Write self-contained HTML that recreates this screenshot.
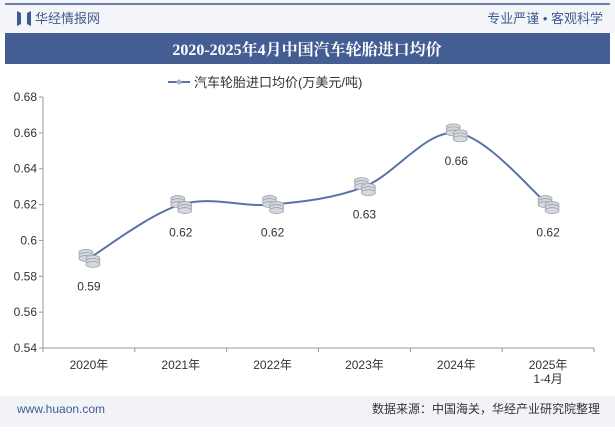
<!DOCTYPE html>
<html><head><meta charset="utf-8"><style>
body{margin:0;width:615px;height:427px;overflow:hidden;background:#fff;font-family:"Liberation Sans","Noto Sans CJK SC",sans-serif}
</style></head><body>
<svg width="615" height="427" xmlns="http://www.w3.org/2000/svg" font-family="Liberation Sans, Noto Sans CJK SC, sans-serif">
<rect x="0" y="0" width="615" height="33" fill="#f3f5f9"/>
<line x1="5" y1="4" x2="610" y2="4" stroke="#3f5a92" stroke-width="1.5"/>
<path d="M17 11 L21 13 L21 24 L17 26Z M27 13 L31 11 L31 26 L27 24Z" fill="#3f5a92"/>
<text x="35" y="23" font-size="13" fill="#3f5a92">华经情报网</text>
<text x="603" y="23" font-size="13" fill="#3f5a92" text-anchor="end">专业严谨 • 客观科学</text>
<rect x="5" y="33" width="605" height="31" fill="#445e94"/>
<text x="307" y="55" font-size="16" font-weight="bold" fill="#fff" text-anchor="middle" font-family="Liberation Serif, Noto Serif CJK SC, serif">2020-2025年4月中国汽车轮胎进口均价</text>
<g>
<line x1="168" y1="82" x2="190" y2="82" stroke="#5b72a8" stroke-width="2"/>
<circle cx="179" cy="82" r="2.5" fill="#aab4c8"/>
<text x="194" y="87" font-size="13" fill="#333">汽车轮胎进口均价(万美元/吨)</text>
</g>
<g id="axes"></g>
<g id="marks"></g>
<rect x="0" y="396" width="615" height="31" fill="#f1f3f7"/>
<text x="17" y="413" font-size="12" fill="#3f5a92">www.huaon.com</text>
<text x="600" y="413" font-size="12" fill="#333" text-anchor="end">数据来源：中国海关，华经产业研究院整理</text>
</svg>
<script>
const categories=["2020年","2021年","2022年","2023年","2024年","2025年\n1-4月"];
const values=[0.59,0.62,0.62,0.63,0.66,0.62];
const labels=["0.59","0.62","0.62","0.63","0.66","0.62"];
const yTicks=[0.54,0.56,0.58,0.6,0.62,0.64,0.66,0.68];
const NS="http://www.w3.org/2000/svg";
const x0=43,x1=594,yTop=97,yBot=348,ymin=0.54,ymax=0.68;
const bw=(x1-x0)/categories.length;
const xs=i=>x0+bw*(i+0.5);
const ys=v=>yBot-(v-ymin)/(ymax-ymin)*(yBot-yTop);
function mk(t,a,p){const e=document.createElementNS(NS,t);for(const k in a)e.setAttribute(k,a[k]);p.appendChild(e);return e;}
const ax=document.getElementById('axes'),mg=document.getElementById('marks');
yTicks.forEach(v=>{const t=mk('text',{x:37,y:ys(v)+4,'font-size':12,fill:'#333','text-anchor':'end'},ax);t.textContent=String(v);


mk('line',{x1:x0-4,x2:x0,y1:ys(v),y2:ys(v),stroke:'#999'},ax);});
const yl=mk('line',{x1:x0,x2:x0,y1:yTop,y2:yBot,stroke:'#999'},ax);


const xl=mk('line',{x1:x0,x2:x1,y1:yBot,y2:yBot,stroke:'#999'},ax);


categories.forEach((c,i)=>{mk('line',{x1:x0+bw*i,x2:x0+bw*i,y1:yBot,y2:yBot+4,stroke:'#999'},ax);
c.split("\n").forEach((s,j)=>{const t=mk('text',{x:xs(i),y:yBot+21+j*14,'font-size':12,fill:'#333','text-anchor':'middle'},ax);t.textContent=s;

});});
mk('line',{x1:x1,x2:x1,y1:yBot,y2:yBot+4,stroke:'#999'},ax);
const P=values.map((v,i)=>[xs(i),ys(v)]);
let d="M"+P[0][0]+","+P[0][1];
for(let i=0;i<P.length-1;i++){const p0=P[i-1]||P[i],p1=P[i],p2=P[i+1],p3=P[i+2]||p2;
d+=` C${p1[0]+(p2[0]-p0[0])/6},${p1[1]+(p2[1]-p0[1])/6} ${p2[0]-(p3[0]-p1[0])/6},${p2[1]-(p3[1]-p1[1])/6} ${p2[0]},${p2[1]}`;}
const ln=mk('path',{d:d,fill:'none',stroke:'#5b72a8','stroke-width':2},mg);


P.forEach((p,i)=>{const g=mk('g',{},mg);


[[-3,-6],[-3,-3],[-3,0],[4,0],[4,3],[4,6]].forEach(o=>mk('ellipse',{cx:p[0]+o[0],cy:p[1]+o[1],rx:7,ry:3,fill:'#d5d8de',stroke:'#9aa0aa','stroke-width':0.8},g));
const t=mk('text',{x:p[0],y:p[1]+32,'font-size':12,fill:'#333','text-anchor':'middle'},mg);t.textContent=labels[i];

});
</script>
</body></html>
